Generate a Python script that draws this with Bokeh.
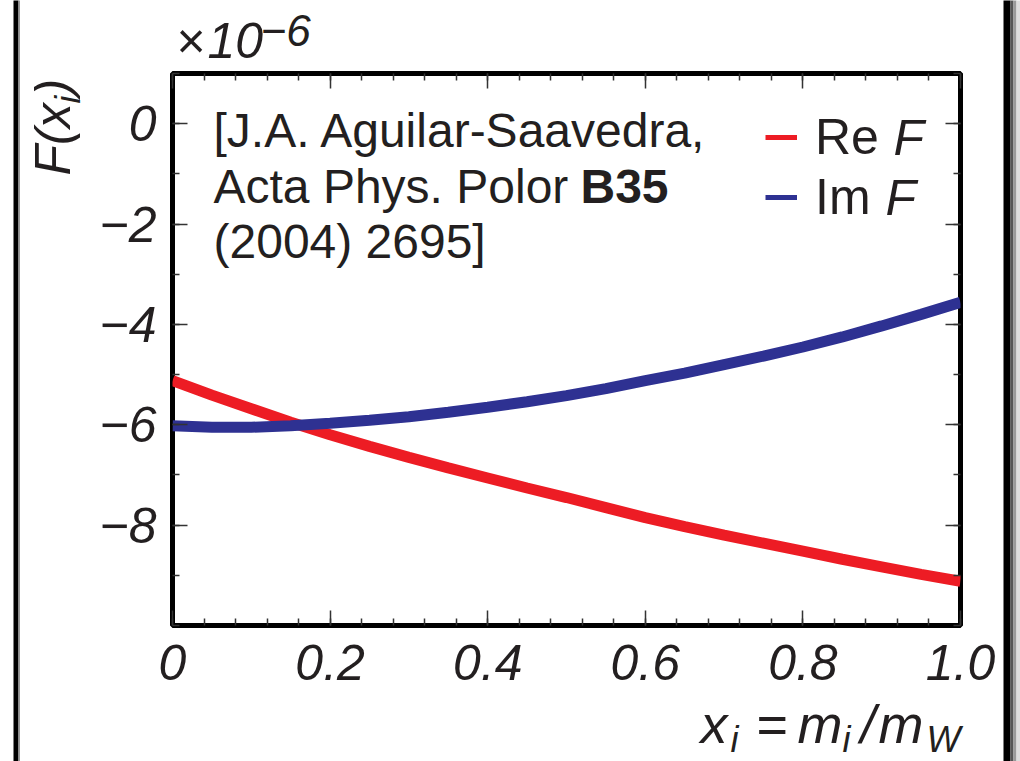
import math
from bokeh.plotting import figure
from bokeh.layouts import column
from bokeh.models import (Range1d, FixedTicker, LinearAxis, Label, Legend, LegendItem,
                          BoxAnnotation, GridBox)
from bokeh.embed import file_html
from bokeh.resources import INLINE

# ---------------- data ----------------
x_values = [0.00, 0.05, 0.10, 0.15, 0.20, 0.25, 0.30, 0.35, 0.40, 0.45, 0.50,
            0.55, 0.60, 0.65, 0.70, 0.75, 0.80, 0.85, 0.90, 0.95, 1.00]
re_F = [-5.12, -5.41, -5.68, -5.95, -6.20, -6.43, -6.65, -6.86, -7.06, -7.26, -7.45,
        -7.65, -7.85, -8.03, -8.20, -8.36, -8.52, -8.68, -8.83, -8.98, -9.12]
im_F = [-6.02, -6.05, -6.05, -6.02, -5.97, -5.91, -5.84, -5.75, -5.65, -5.54, -5.42,
        -5.28, -5.12, -4.97, -4.80, -4.63, -4.45, -4.25, -4.03, -3.80, -3.56]

x_major_ticks = [0, 0.2, 0.4, 0.6, 0.8, 1.0]
x_tick_labels = ["0", "0.2", "0.4", "0.6", "0.8", "1.0"]
y_major_ticks = [0, -2, -4, -6, -8]
y_tick_labels = ["0", "\u22122", "\u22124", "\u22126", "\u22128"]
series_names = ["Re", "Im"]

# ---------------- style ----------------
RED = "#ED1C24"
BLUE = "#2E3192"
TXT = "#231F20"
FONT = "Liberation Sans"

W, H = 1020, 761
FX0, FX1, FY0, FY1 = 172, 960, 73, 625   # frame edges in pixels
X0, X1, Y0, Y1 = 0.0, 1.0, -10.0, 1.0

p = figure(width=W, height=H, x_range=Range1d(X0, X1), y_range=Range1d(Y0, Y1),
           output_backend="svg", toolbar_location=None,
           min_border_left=FX0, min_border_right=W - FX1,
           min_border_top=FY0, min_border_bottom=H - FY1)
p.xgrid.visible = False
p.ygrid.visible = False
p.outline_line_color = "black"
p.outline_line_width = 5
p.background_fill_color = "white"
p.border_fill_color = "white"

x_minor = [round(0.04 * k, 2) for k in range(26)]
y_minor = list(range(-10, 2))


def style_axis(ax):
    ax.axis_line_color = None
    ax.major_tick_in = 15
    ax.major_tick_out = 0
    ax.minor_tick_in = 7
    ax.minor_tick_out = 0
    ax.major_tick_line_color = "#333333"
    ax.minor_tick_line_color = "#333333"
    ax.major_tick_line_width = 1.5
    ax.minor_tick_line_width = 1.5
    ax.major_label_text_font = FONT
    ax.major_label_text_font_style = "italic"
    ax.major_label_text_font_size = "50px"
    ax.major_label_text_color = TXT


xax = p.xaxis[0]
xax.ticker = FixedTicker(ticks=x_major_ticks, minor_ticks=x_minor)
style_axis(xax)
xax.major_label_overrides = dict(zip(x_major_ticks, x_tick_labels))
xax.major_label_standoff = 19

yax = p.yaxis[0]
yax.ticker = FixedTicker(ticks=y_major_ticks, minor_ticks=y_minor)
style_axis(yax)
yax.major_label_overrides = dict(zip(y_major_ticks, y_tick_labels))
yax.major_label_standoff = 16

top_ax = LinearAxis(ticker=FixedTicker(ticks=x_major_ticks, minor_ticks=x_minor))
style_axis(top_ax)
top_ax.major_label_overrides = {t: "" for t in x_major_ticks}
top_ax.major_label_text_font_size = "8px"
top_ax.major_label_standoff = 0
p.add_layout(top_ax, "above")

right_ax = LinearAxis(ticker=FixedTicker(ticks=y_major_ticks, minor_ticks=y_minor))
style_axis(right_ax)
right_ax.major_label_overrides = {t: "" for t in y_major_ticks}
right_ax.major_label_text_font_size = "8px"
right_ax.major_label_standoff = 0
p.add_layout(right_ax, "right")

# ---------------- curves ----------------
r_re = p.line(x_values, re_F, line_color=RED, line_width=11)
r_im = p.line(x_values, im_F, line_color=BLUE, line_width=11)

# legend (thinner legend glyphs, as in the reference); proxies hold no visible point
nan = float("nan")
leg_re = p.line(x=[nan], y=[nan], line_color=RED, line_width=5)
leg_im = p.line(x=[nan], y=[nan], line_color=BLUE, line_width=5)
legend = Legend(items=[LegendItem(label=series_names[0], renderers=[leg_re]),
                       LegendItem(label=series_names[1], renderers=[leg_im])],
                location=(765 - FX0, FY1 - 227),
                glyph_width=32, glyph_height=60, label_height=60,
                spacing=0, padding=0, margin=0, label_standoff=18,
                border_line_color=None, background_fill_alpha=0,
                label_text_font=FONT, label_text_font_size="50px",
                label_text_color=TXT)
p.add_layout(legend)

# ---------------- overlay layer for texts outside the frame ----------------
q = figure(width=W, height=H, x_range=Range1d(0, W), y_range=Range1d(0, H),
           output_backend="svg", toolbar_location=None,
           x_axis_location=None, y_axis_location=None,
           min_border=0, min_border_left=0, min_border_right=0,
           min_border_top=0, min_border_bottom=0)
q.xgrid.visible = False
q.ygrid.visible = False
q.outline_line_color = None
q.background_fill_alpha = 0
q.border_fill_alpha = 0


def add_text(px, base, text, size, style="normal", angle=0.0):
    """Place text by its baseline position (pixels); drawn with a 'middle' anchor."""
    shift = 0.36 * size
    if angle == 0.0:
        x, y = px, base - shift
    else:  # rotated 90 deg counter-clockwise: baseline is a vertical line at px=base
        x, y = base - shift, px
    q.add_layout(Label(x=x, y=H - y, text=text, text_font=FONT,
                       text_font_size=f"{size}px", text_font_style=style,
                       text_color=TXT, angle=angle, text_align="left",
                       text_baseline="middle"))


# italic F after legend labels (baselines 155 / 215)
add_text(893, 155, "F", 50, "italic")
add_text(885, 215, "F", 50, "italic")

# exponent marker
add_text(176, 58, "\u00d7", 50)
add_text(207, 58, "10", 50, "italic")
add_text(260, 46, "\u22126", 44, "italic")

# citation text
add_text(213, 147, "[J.A. Aguilar-Saavedra,", 48)
add_text(213, 203, "Acta Phys. Polor ", 48)
add_text(580, 203, "B35", 48, "bold")
add_text(213, 258, "(2004) 2695]", 48)

# y-axis title F(x_i), rotated (first arg: start position along y; second: baseline x)
add_text(175, 70, "F(x", 50, "italic", angle=math.pi / 2)
add_text(103, 80, "i", 35, "italic", angle=math.pi / 2)
add_text(95, 70, ")", 50, "italic", angle=math.pi / 2)

# x-axis title x_i = m_i /m_W
add_text(700, 743, "x", 54, "italic")
add_text(730, 752, "i", 36, "italic")
add_text(756, 743, "=", 54)
add_text(797, 743, "m", 54, "italic")
add_text(842, 752, "i", 36, "italic")
add_text(860, 743, "/", 54, "italic")
add_text(878, 743, "m", 54, "italic")
add_text(926, 752, "W", 36, "italic")

# page frame lines (left and right, with soft shadow on the right)
for (l, r, c) in [(13, 18, "black"), (18, 19.5, "#999999"),
                  (1003, 1010, "black"), (1010, 1013, "#555555"),
                  (1013, 1016, "#999999"), (1016, 1020, "#DDDDDD")]:
    q.add_layout(BoxAnnotation(left=l, right=r, bottom=-10, top=H + 10,
                               fill_color=c, fill_alpha=1.0, line_color=None))

layout = GridBox(children=[(column(p), 0, 0), (column(q), 0, 0)])
open("out.html", "w").write(file_html(layout, INLINE))
